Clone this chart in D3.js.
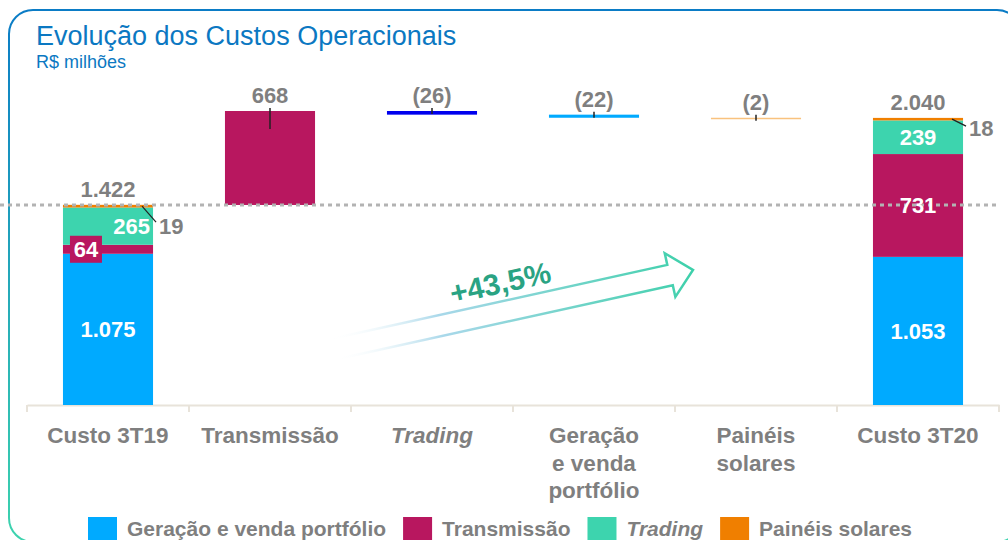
<!DOCTYPE html>
<html>
<head>
<meta charset="utf-8">
<script src="https://cdn.jsdelivr.net/npm/d3@7"></script>
<style>
  body { margin: 0; background: #fff; }
  svg { display: block; font-family: "Liberation Sans", Arial, sans-serif; }
</style>
</head>
<body>
<div class="canvas"></div>
<script>
// data
const categories = ["Custo 3T19", "Transmissão", "Trading", "Geração e venda portfólio", "Painéis solares", "Custo 3T20"];
const categoryLines = [["Custo 3T19"], ["Transmissão"], ["Trading"], ["Geração", "e venda", "portfólio"], ["Painéis", "solares"], ["Custo 3T20"]];
const italicNames = ["Trading"];
const segments = ["Geração e venda portfólio", "Transmissão", "Trading", "Painéis solares"];
const segmentColors = ["#00aaff", "#b8175f", "#3dd4ae", "#f07f00"];
const custo3T19 = [1075, 64, 265, 19];
const custo3T20 = [1053, 731, 239, 18];
const totals = [1422, 2040];
const variations = [668, -26, -22, -2];
const variationColors = ["#b8175f", "#0000ee", "#00aaff", "#f9c27e"];
const growthLabel = "+43,5%";

const dims = { width: 1008, height: 540 };
const grey = "#7f7f7f";

const fmt = d3.formatLocale({ decimal: ",", thousands: ".", grouping: [3], currency: ["R$", ""] }).format(",d");

const svg = d3
  .select(".canvas")
  .append("svg")
  .attr("width", dims.width)
  .attr("height", dims.height);

const defs = svg.append("defs");

// frame gradient (blue top -> teal bottom)
const frameGrad = defs
  .append("linearGradient")
  .attr("id", "frameGrad")
  .attr("gradientUnits", "userSpaceOnUse")
  .attr("x1", 0).attr("y1", 10).attr("x2", 0).attr("y2", 540);
frameGrad.append("stop").attr("offset", "0%").attr("stop-color", "#0b7cc6");
frameGrad.append("stop").attr("offset", "100%").attr("stop-color", "#3dd3ae");

svg
  .append("rect")
  .attr("x", 9)
  .attr("y", 10)
  .attr("width", 1012)
  .attr("height", 532)
  .attr("rx", 24)
  .attr("fill", "none")
  .attr("stroke", "url(#frameGrad)")
  .attr("stroke-width", 2);

// titles
svg
  .append("text")
  .attr("x", 36)
  .attr("y", 45)
  .attr("font-size", 27)
  .attr("fill", "#0b78c2")
  .text("Evolução dos Custos Operacionais");

svg
  .append("text")
  .attr("x", 36)
  .attr("y", 68)
  .attr("font-size", 18)
  .attr("fill", "#0b78c2")
  .text("R$ milhões");

// scales
const x = d3
  .scaleBand()
  .domain(categories)
  .range([27, 999])
  .paddingInner(0.444)
  .paddingOuter(0.222);

const waterfall = [];
let running = totals[0];
variations.forEach((v, i) => {
  waterfall.push({ cat: categories[i + 1], start: running, end: running + v, value: v, colour: variationColors[i] });
  running += v;
});

const yMax = d3.max(waterfall, (d) => Math.max(d.start, d.end));
const y = d3.scaleLinear().domain([0, yMax]).range([405, 111]);

// axis
const axis = svg
  .append("g")
  .attr("transform", "translate(0, 405)")
  .call(d3.axisBottom(x).tickSize(0).tickFormat(""));
axis.select(".domain").attr("stroke", "#e8e3da").attr("stroke-width", 2);
const bounds = x.domain().map((c) => x(c) - (x.step() - x.bandwidth()) / 2).concat([x.range()[1]]);
axis
  .selectAll("line.sep")
  .data(bounds)
  .enter()
  .append("line")
  .attr("class", "sep")
  .attr("x1", (d) => d)
  .attr("x2", (d) => d)
  .attr("y1", 0)
  .attr("y2", 7)
  .attr("stroke", "#e8e3da")
  .attr("stroke-width", 2);

// category labels
const catLabels = svg
  .selectAll("text.cat")
  .data(categories)
  .enter()
  .append("text")
  .attr("class", "cat")
  .attr("text-anchor", "middle")
  .attr("font-size", 22.5)
  .attr("font-weight", "bold")
  .attr("fill", grey)
  .attr("font-style", (d) => (italicNames.includes(d) ? "italic" : "normal"));
catLabels
  .selectAll("tspan")
  .data((d, i) => categoryLines[i].map((line) => ({ line, cat: d })))
  .enter()
  .append("tspan")
  .attr("x", (d) => x(d.cat) + x.bandwidth() / 2)
  .attr("y", (d, j) => 443 + j * 27.5)
  .text((d) => d.line);

// stacked totals
const rows = [custo3T19, custo3T20].map((vals, i) => {
  const row = { cat: i === 0 ? categories[0] : categories[categories.length - 1], total: totals[i] };
  segments.forEach((s, j) => (row[s] = vals[j]));
  return row;
});
const stacked = d3.stack().keys(segments)(rows);

const stackGroups = svg
  .selectAll("g.layer")
  .data(stacked)
  .enter()
  .append("g")
  .attr("class", "layer")
  .attr("fill", (d, i) => segmentColors[i]);

stackGroups
  .selectAll("rect")
  .data((d) => d)
  .enter()
  .append("rect")
  .attr("x", (d) => x(d.data.cat))
  .attr("width", x.bandwidth())
  .attr("y", (d) => y(d[1]))
  .attr("height", (d) => y(d[0]) - y(d[1]));

// waterfall bars
svg
  .selectAll("rect.delta")
  .data(waterfall)
  .enter()
  .append("rect")
  .attr("class", "delta")
  .attr("x", (d) => x(d.cat))
  .attr("width", x.bandwidth())
  .attr("y", (d) => y(Math.max(d.start, d.end)))
  .attr("height", (d) => Math.max(1.5, Math.abs(y(d.start) - y(d.end))))
  .attr("fill", (d) => d.colour);

// little markers on the deltas
svg
  .selectAll("line.mark")
  .data(waterfall)
  .enter()
  .append("line")
  .attr("class", "mark")
  .attr("x1", (d) => x(d.cat) + x.bandwidth() / 2)
  .attr("x2", (d) => x(d.cat) + x.bandwidth() / 2)
  .attr("y1", (d) => y(Math.max(d.start, d.end)) - 3)
  .attr("y2", (d) => y(Math.max(d.start, d.end)) + (d.value > 0 ? 18 : 3))
  .attr("stroke", "#222")
  .attr("stroke-width", 1.5);

// dotted reference at starting cost
svg
  .append("line")
  .attr("x1", 0)
  .attr("x2", 996)
  .attr("y1", y(totals[0]))
  .attr("y2", y(totals[0]))
  .attr("stroke", "#b3b3b3")
  .attr("stroke-width", 3)
  .attr("stroke-dasharray", "4,4");

// delta labels
svg
  .selectAll("text.dlabel")
  .data(waterfall)
  .enter()
  .append("text")
  .attr("class", "dlabel")
  .attr("text-anchor", "middle")
  .attr("font-size", 22)
  .attr("font-weight", "bold")
  .attr("fill", grey)
  .attr("x", (d) => x(d.cat) + x.bandwidth() / 2)
  .attr("y", (d) => y(Math.max(d.start, d.end)) - 8)
  .text((d) => (d.value < 0 ? `(${fmt(-d.value)})` : fmt(d.value)));

// total labels
svg
  .selectAll("text.tlabel")
  .data(rows)
  .enter()
  .append("text")
  .attr("class", "tlabel")
  .attr("text-anchor", "middle")
  .attr("font-size", 22)
  .attr("font-weight", "bold")
  .attr("fill", grey)
  .attr("x", (d) => x(d.cat) + x.bandwidth() / 2)
  .attr("y", (d) => y(d.total) - 8)
  .text((d) => fmt(d.total));

// segment labels
stacked.forEach((layer, li) => {
  layer.forEach((d, bi) => {
    const h = y(d[0]) - y(d[1]);
    const val = d[1] - d[0];
    const left = x(d.data.cat);
    const right = left + x.bandwidth();
    const midY = (y(d[0]) + y(d[1])) / 2;
    if (h < 5) {
      // outside label with leader
      svg.append("line")
        .attr("x1", right - 11).attr("y1", midY)
        .attr("x2", right + 3).attr("y2", midY + (bi === 0 ? 16 : 7))
        .attr("stroke", "#222").attr("stroke-width", 1.2);
      svg.append("text")
        .attr("x", right + 6)
        .attr("y", midY + (bi === 0 ? 28 : 17))
        .attr("font-size", 22).attr("font-weight", "bold").attr("fill", grey)
        .text(fmt(val));
    } else if (h < 20) {
      // boxed label on the left
      svg.append("rect")
        .attr("x", left + 7).attr("y", midY - 13.5)
        .attr("width", 32).attr("height", 27)
        .attr("fill", segmentColors[li]);
      svg.append("text")
        .attr("x", left + 23).attr("y", midY + 8)
        .attr("text-anchor", "middle")
        .attr("font-size", 22).attr("font-weight", "bold").attr("fill", "#fff")
        .text(fmt(val));
    } else {
      const prevSmall = li > 0 && y(stacked[li - 1][bi][0]) - y(stacked[li - 1][bi][1]) < 20;
      svg.append("text")
        .attr("x", prevSmall ? right - 3 : (left + right) / 2)
        .attr("y", midY + 8)
        .attr("text-anchor", prevSmall ? "end" : "middle")
        .attr("font-size", 22).attr("font-weight", "bold").attr("fill", "#fff")
        .text(fmt(val));
    }
  });
});

// growth arrow
const arrowGrad = defs
  .append("linearGradient")
  .attr("id", "arrowGrad")
  .attr("gradientUnits", "userSpaceOnUse")
  .attr("x1", 0).attr("y1", 0).attr("x2", 370).attr("y2", 0);
arrowGrad.append("stop").attr("offset", "0%").attr("stop-color", "#ffffff").attr("stop-opacity", 0);
arrowGrad.append("stop").attr("offset", "30%").attr("stop-color", "#a9d8ea");
arrowGrad.append("stop").attr("offset", "100%").attr("stop-color", "#3dd0aa");

const arrow = svg
  .append("g")
  .attr("transform", `translate(${x(categories[1]) + x.bandwidth() * 1.17}, 339) rotate(-12.4)`);

arrow
  .append("path")
  .attr("d", "M0,0 L345,0 L345,-12 L369,10.5 L346,33 L346,21 L5,21")
  .attr("fill", "none")
  .attr("stroke", "url(#arrowGrad)")
  .attr("stroke-width", 2.5)
  .attr("stroke-linejoin", "miter");

arrow
  .append("text")
  .attr("x", 178)
  .attr("y", -8)
  .attr("text-anchor", "middle")
  .attr("font-size", 30)
  .attr("font-weight", "bold")
  .attr("fill", "#2aa383")
  .text(growthLabel);

// legend
const legend = svg.append("g").attr("transform", "translate(88, 517)");
let lx = 0;
segments.forEach((s, i) => {
  legend.append("rect").attr("x", lx).attr("y", 0).attr("width", 29).attr("height", 28).attr("fill", segmentColors[i]);
  const t = legend
    .append("text")
    .attr("x", lx + 39)
    .attr("y", 19)
    .attr("font-size", 21)
    .attr("font-weight", "bold")
    .attr("fill", grey)
    .attr("font-style", italicNames.includes(s) ? "italic" : "normal")
    .text(s);
  lx += 39 + t.node().getComputedTextLength() + 17;
});
</script>
</body>
</html>
